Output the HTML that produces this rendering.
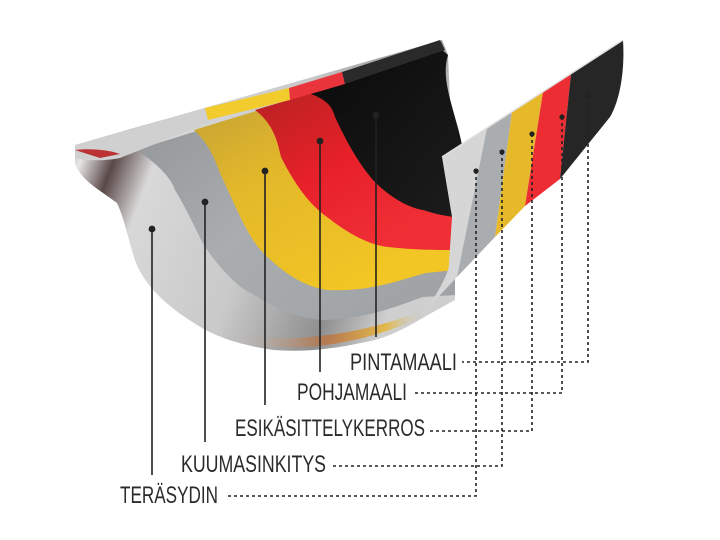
<!DOCTYPE html>
<html><head><meta charset="utf-8"><style>
html,body{margin:0;padding:0;background:#fff;}
svg{display:block;}
text{font-family:"Liberation Sans Narrow","Liberation Sans",sans-serif;fill:#2b2b2b;font-size:24px;}
</style></head><body>
<svg width="720" height="540" viewBox="0 0 720 540" xmlns="http://www.w3.org/2000/svg">
<defs>
<linearGradient id="sil" x1="0" y1="0" x2="1" y2="0.3">
<stop offset="0" stop-color="#6b5d5a"/><stop offset="0.12" stop-color="#e8e6e6"/><stop offset="0.2" stop-color="#5a4848"/><stop offset="0.3" stop-color="#d9d8d8"/><stop offset="0.6" stop-color="#c9c9c9"/><stop offset="0.85" stop-color="#8f8f8f"/><stop offset="1" stop-color="#cfcfcf"/>
</linearGradient>
<linearGradient id="gry" x1="0" y1="0" x2="1" y2="1">
<stop offset="0" stop-color="#8c9092"/><stop offset="0.5" stop-color="#a9adaf"/><stop offset="1" stop-color="#9da1a3"/>
</linearGradient>
<linearGradient id="yel" x1="0" y1="0" x2="0.6" y2="1">
<stop offset="0" stop-color="#b89a3a"/><stop offset="0.5" stop-color="#e3b82a"/><stop offset="1" stop-color="#f2c624"/>
</linearGradient>
<linearGradient id="red" x1="0" y1="0" x2="0.6" y2="1">
<stop offset="0" stop-color="#a8231f"/><stop offset="0.6" stop-color="#e8202a"/><stop offset="1" stop-color="#ef2f35"/>
</linearGradient>
<linearGradient id="blk" x1="0" y1="0" x2="1" y2="1">
<stop offset="0" stop-color="#0a0a0a"/><stop offset="1" stop-color="#1c1c1c"/>
</linearGradient>
<linearGradient id="bot" x1="0" y1="0" x2="1" y2="0">
<stop offset="0" stop-color="#c8c8c8" stop-opacity="0"/><stop offset="0.5" stop-color="#c36a2e" stop-opacity="0.7"/><stop offset="0.8" stop-color="#e6b32a" stop-opacity="0.8"/><stop offset="1" stop-color="#c8c8c8" stop-opacity="0"/>
</linearGradient>
</defs>

<path d="M75,145 L442,40 L448,55 L455,217 L455,300 L426,316 C400,332 380,340 365,342 C330,350 300,352 274,350 C240,345 215,337 194,323 C165,305 145,285 136,263 C128,240 125,220 117,203 C100,190 80,180 75,163 Z" fill="url(#sil)"/>
<path d="M230,340 C290,356 360,345 420,318 L425,310 C360,335 290,345 230,333 Z" fill="url(#bot)"/>
<path d="M136,150 C160,165 172,180 175,190 C190,215 198,235 205,247 C225,275 240,288 251,293 C280,312 305,320 327,320 C370,318 400,305 423,297 L455,295 L455,217 L440,55 Z" fill="url(#gry)"/>
<path d="M194,130 C210,145 215,160 220,173 C235,205 245,230 258,247 C280,272 305,287 327,290 C370,292 400,280 426,273 L455,270 L455,217 L440,55 Z" fill="url(#yel)"/>
<path d="M255,110 C275,125 278,145 281,157 C295,185 310,205 327,217 C350,235 370,245 388,247 C415,250 435,250 455,250 L455,217 L440,55 Z" fill="url(#red)"/>
<path d="M308,93 C330,100 333,110 335,117 C348,145 360,165 373,180 C390,198 410,208 423,210 C435,214 445,216 455,217 L462,145 C455,110 440,80 448,55 L440,48 Z" fill="url(#blk)"/>

<path d="M75,145 L205,108 L210,122 L120,158 C100,162 82,160 75,158 Z" fill="#d0d0d0"/>
<path d="M75,150 C90,148 110,150 120,154 L100,158 Z" fill="#b33"/>
<path d="M205,108 L289,88 L290,100 L208,120 Z" fill="#f2cc2c"/>
<path d="M289,88 L342,72 L345,84 L290,100 Z" fill="#e8343a"/>
<path d="M342,72 L440,40 L445,50 L345,84 Z" fill="#2a2a2a"/>

<path d="M442,157 L487,128 L457,277 L426,310 C440,290 450,270 449,263 L452,217 Z" fill="#d6d6d6"/>
<path d="M487,128 L512,112 L495,237 L457,277 Z" fill="#a9adaf"/>
<path d="M512,112 L543,92 L525,206 L495,237 Z" fill="#e6b92a"/>
<path d="M543,92 L571,74 L560,179 L525,206 Z" fill="#ec2d33"/>
<path d="M571,74 L623,40 C625,70 620,100 610,117 L560,179 Z" fill="#262626"/>
<path d="M442,157 L623,40" stroke="#e0e0e0" stroke-width="1.5" fill="none"/>

<g stroke="#222" stroke-width="1.6" fill="#222">
<line x1="152" y1="229" x2="152" y2="475"/><circle cx="152" cy="229" r="2.6"/>
<line x1="205" y1="202" x2="205" y2="442"/><circle cx="205" cy="202" r="2.6"/>
<line x1="265" y1="171" x2="265" y2="405"/><circle cx="265" cy="171" r="2.6"/>
<line x1="320" y1="141" x2="320" y2="372"/><circle cx="320" cy="141" r="2.6"/>
<line x1="376" y1="115" x2="376" y2="337"/><circle cx="376" cy="115" r="2.6"/>
</g>
<g stroke="#222" stroke-width="1.6" fill="none" stroke-dasharray="3,3">
<polyline points="476,171 476,496 228,496"/>
<polyline points="502,152 502,466 330,466"/>
<polyline points="532,134 532,431 430,431"/>
<polyline points="562,117 562,393 414,393"/>
<polyline points="588,96 588,362 462,362"/>
</g>
<g fill="#222">
<circle cx="476" cy="171" r="2.6"/><circle cx="502" cy="152" r="2.6"/><circle cx="532" cy="134" r="2.6"/><circle cx="562" cy="117" r="2.6"/><circle cx="588" cy="96" r="2.6"/>
</g>

<text x="350" y="370" textLength="107" lengthAdjust="spacingAndGlyphs">PINTAMAALI</text>
<text x="297" y="400" textLength="110" lengthAdjust="spacingAndGlyphs">POHJAMAALI</text>
<text x="235" y="436" textLength="190" lengthAdjust="spacingAndGlyphs">ESIKÄSITTELYKERROS</text>
<text x="181" y="472" textLength="145" lengthAdjust="spacingAndGlyphs">KUUMASINKITYS</text>
<text x="120" y="503" textLength="98" lengthAdjust="spacingAndGlyphs">TERÄSYDIN</text>
</svg>
</body></html>
